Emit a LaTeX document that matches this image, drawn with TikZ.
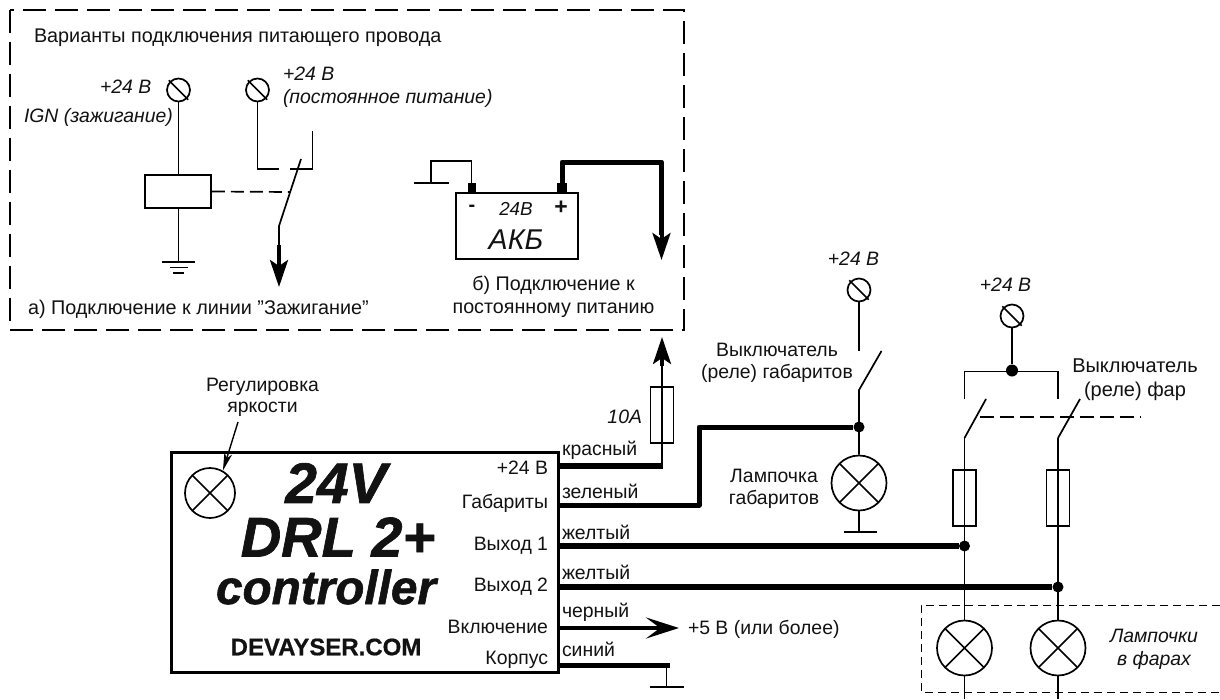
\documentclass[tikz,border=0pt]{standalone}
\usepackage{fontspec}
\setmainfont{Liberation Sans}
\newfontfamily\heavyfont[BoldItalicFeatures={FakeBold=1.2},BoldFeatures={FakeBold=0.6}]{Liberation Sans}
\usetikzlibrary{arrows.meta,shapes.geometric,calc}
\tikzset{
  ln/.style={line width=1.7pt,draw=black},
  txt/.style={inner sep=0pt,outer sep=0pt,text=black!93,font=\fontsize{19.4}{22}\selectfont,align=center},
  ital/.style={txt,font=\fontsize{19.4}{23}\selectfont\itshape},
  term/.style={circle,ln,minimum size=23pt,inner sep=0pt},
  lamp/.style={ellipse,ln,minimum width=55pt,minimum height=55pt,inner sep=0pt,
    path picture={\draw[ln] (path picture bounding box.north west)--(path picture bounding box.south east)
      (path picture bounding box.south west)--(path picture bounding box.north east);}},
  dot/.style={circle,fill=black,inner sep=0pt,minimum size=11pt},
  fuse/.style={rectangle,ln,fill=none,minimum width=23pt,minimum height=56pt,inner sep=0pt},
  wire/.style={line width=#1,draw=black,line join=round},
  dashbox/.style={line width=1.6pt,dash pattern=on 23pt off 9pt},
  thinbox/.style={line width=0.9pt,dash pattern=on 8pt off 5pt},
  bigarrow/.style={line width=#1,draw=black,-{Stealth[length=27pt,width=18pt,inset=6pt]}},
}
\begin{document}
\begin{tikzpicture}[x=1pt,y=-1pt]
\useasboundingbox[fill=white] (0,0) rectangle (1220,699);

% --- upper dashed frame
\draw[dashbox] (10,10) rectangle (684,330);
\node[txt,anchor=west,font=\fontsize{19.8}{22}\selectfont] (title) at (34,38) {Варианты подключения питающего провода};

% relay variant a
\node[term] (t1) at (178.5,90) {};
\node[term] (t2) at (257.5,90) {};
\node[ital,anchor=west] (t1v) at (100,87) {+24 В};
\node[ital,anchor=west] (t1i) at (24,117) {IGN (зажигание)};
\node[ital,anchor=north west,align=left] (t2v) at (283,67) {+24 В\\(постоянное питание)};
\node[rectangle,ln,minimum width=66pt,minimum height=33pt,inner sep=0pt] (coil) at (178,191.5) {};
\coordinate (g1) at (178.5,262);
\draw[ln] ($(t1.north west)+(-1,-1)$)--($(t1.south east)+(1,1)$);
\draw[ln] ($(t2.north west)+(-1,-1)$)--($(t2.south east)+(1,1)$);
\draw[ln] (t1) ++(0,11.5) -- (coil.north -| t1);
\draw[ln] (coil.south -| t1) -- (g1);
\draw[ln] (161.5,262)--(195,262) (170,267.5)--(187.5,267.5) (173,273)--(184,273);
\coordinate (r1) at (279,169);
\coordinate (r2) at (290,169);
\coordinate (r3) at (312.5,169);
\coordinate (r4) at (312.5,131);
\coordinate (b1) at (301,159);
\coordinate (b2) at (279,226);
\coordinate (a1) at (279,287);
\draw[ln] (t2) ++(0,11.5) -- (257.5,169) -- (r1);
\draw[ln] (r2)--(r3)--(r4);
\draw[ln] (b1)--(b2)--(279,245);
\draw[bigarrow=3.5pt] (279,245)--(a1);
\coordinate (d1) at (290,192);
\draw[ln,dash pattern=on 13pt off 6pt] (coil.east)--(d1);
\node[txt,anchor=west,font=\fontsize{19.8}{22}\selectfont] (lba) at (28,309) {а) Подключение к линии "Зажигание"};

% battery variant b
\node[rectangle,ln,minimum width=122pt,minimum height=66pt,inner sep=0pt] (bat) at (517,226) {};
\node[fill=black,inner sep=0pt,minimum width=8pt,minimum height=10pt] (minus) at (471.5,188) {};
\node[fill=black,inner sep=0pt,minimum width=10pt,minimum height=10pt] (plus) at (562,188) {};
\coordinate (g2) at (431,183);
\draw[ln] (minus.north)--(471.5,161)--(431,161)--(g2);
\draw[ln] (414,183)--(449,183);
\draw[wire=5pt] (plus.north)--(562,162)--(661.5,162)--(661.5,235);
\draw[bigarrow=4pt] (661.5,232)--(661.5,260);
\node[txt,font=\fontsize{20}{22}\selectfont\bfseries] (mn) at (472,208) {-};
\node[ital,font=\fontsize{18.8}{20}\selectfont\itshape] (b24) at (516,209) {24В};
\node[txt,font=\fontsize{23}{24}\selectfont\bfseries] (pl) at (561,208) {+};
\node[ital,font=\fontsize{28.6}{30}\selectfont\itshape] (akb) at (516,240) {АКБ};
\node[txt,font=\fontsize{19.7}{23}\selectfont] (lbb) at (553.5,296.5) {б) Подключение к\\постоянному питанию};

% --- controller
\node[rectangle,draw=black,line width=3pt,minimum width=387pt,minimum height=220pt,inner sep=0pt] (ctrl) at (364.5,562) {};
\node[lamp,minimum width=50pt,minimum height=50pt] (adj) at (210,493) {};
\node[txt,font=\fontsize{19.4}{21}\selectfont] (adjl) at (262.5,397.5) {Регулировка\\яркости};
\draw[line width=1.4pt,-{Stealth[length=18pt,width=8pt,inset=5pt]}] (238,422)--(adj.60);
\node[txt,font=\heavyfont\fontsize{57}{60}\selectfont\bfseries\itshape] (c1) at (336,483) {24V};
\node[txt,font=\heavyfont\fontsize{56}{60}\selectfont\bfseries\itshape] (c2) at (338,537) {DRL 2+};
\node[txt,font=\heavyfont\fontsize{47.7}{50}\selectfont\bfseries\itshape] (c3) at (326,587) {controller};
\node[txt,font=\heavyfont\fontsize{24}{26}\selectfont\bfseries] (c4) at (326,647) {DEVAYSER.COM};

\foreach \nm/\yy/\tt in {p1/468/+24 В,p2/503/Габариты,p3/546/Выход 1,p4/587/Выход 2,p5/627/Включение,p6/660/Корпус}
  \node[txt,anchor=east] (\nm) at (548,\yy) {\tt};
\foreach \nm/\yy/\tt in {w1/450/красный,w2/491/зеленый,w3/532/желтый,w4/572/желтый,w5/612/черный,w6/649/синий}
  \node[txt,anchor=west] (\nm) at (562,\yy) {\tt};

% fuse and line to upper frame
\node[fuse] (f0) at (662,415) {};
\node[ital,anchor=east] (f0l) at (642,417) {10A};
\coordinate (e1) at (558,466);
\coordinate (e1b) at (663,466);
\coordinate (tip) at (662,337);
\draw[wire=6pt] (e1)--(e1b);
\draw[ln] (662,466)--(662,366);
\draw[bigarrow=3.5pt] (662,366)--(tip);

% parking light
\node[term] (t3) at (859,290) {};
\draw[ln] ($(t3.north west)+(-1,-1)$)--($(t3.south east)+(1,1)$);
\node[ital] (t3v) at (853.5,259) {+24 В};
\node[txt] (s3l) at (777,363) {Выключатель\\(реле) габаритов};
\node[lamp] (l3) at (859,483) {};
\node[dot,minimum size=11pt] (j3) at (859,427) {};
\node[txt] (l3l) at (774,489) {Лампочка\\габаритов};
\draw[ln] (t3)++(0,11.5)--(859,351);
\draw[ln] (881.5,351)--(859,390)--(l3.north);
\draw[ln] (l3.south)--(859,532);
\draw[ln] (843.5,532)--(877,532);
\coordinate (e2) at (558,505);
\draw[wire=5pt] (e2)--(699,505)--(699,427)--(j3);

% head lights
\node[term] (t4) at (1012,316) {};
\draw[ln] ($(t4.north west)+(-1,-1)$)--($(t4.south east)+(1,1)$);
\node[ital] (t4v) at (1005.5,285) {+24 В};
\node[dot,minimum size=12pt] (j4) at (1012,370.5) {};
\draw[ln] (t4)++(0,11.5)--(j4);
\draw[ln] (964.5,399)--(964.5,371.5)--(1058,371.5)--(1058,399);
\node[txt,font=\fontsize{20}{24}\selectfont] (s4l) at (1135,380) {Выключатель\\(реле) фар};
\draw[ln] (986,399)--(964.5,438);
\draw[ln] (1080,399)--(1058,438);
\draw[ln,dash pattern=on 14pt off 6pt] (980,417)--(1141,417);
\node[fuse] (f1) at (964.5,498) {};
\node[fuse] (f2) at (1058,498) {};
\node[lamp] (l1) at (964.5,648) {};
\node[lamp] (l2) at (1058,648) {};
\draw[ln] (964.5,438)--(l1.north);
\draw[ln] (1058,438)--(l2.north);
\coordinate (q1) at (964.5,699);
\coordinate (q2) at (1058,699);
\draw[ln] (l1.south)--(q1);
\draw[ln] (l2.south)--(q2);
\node[dot] (j1) at (964.5,546) {};
\node[dot] (j2) at (1058,587) {};
\coordinate (e3) at (558,546);
\coordinate (e4) at (558,587);
\draw[wire=6pt] (e3)--(j1);
\draw[wire=6pt] (e4)--(j2);
\draw[thinbox] (1220,605)--(921,605)--(921,692)--(1220,692);
\node[ital] (l12l) at (1154,649) {Лампочки\\в фарах};

% enable and ground
\coordinate (e5) at (558,628);
\coordinate (e5t) at (679,628);
\draw[line width=4pt,draw=black,-{Stealth[length=33pt,width=21pt,inset=14pt]}] (e5)--(e5t);
\node[txt,anchor=west] (e5l) at (688,629) {+5 В (или более)};
\coordinate (e6) at (558,665);
\coordinate (e6t) at (670,665);
\draw[wire=5pt] (e6)--(e6t);
\draw[ln] (666.5,665)--(666.5,687);
\draw[ln] (650,687)--(684,687);
\end{tikzpicture}
\end{document}
